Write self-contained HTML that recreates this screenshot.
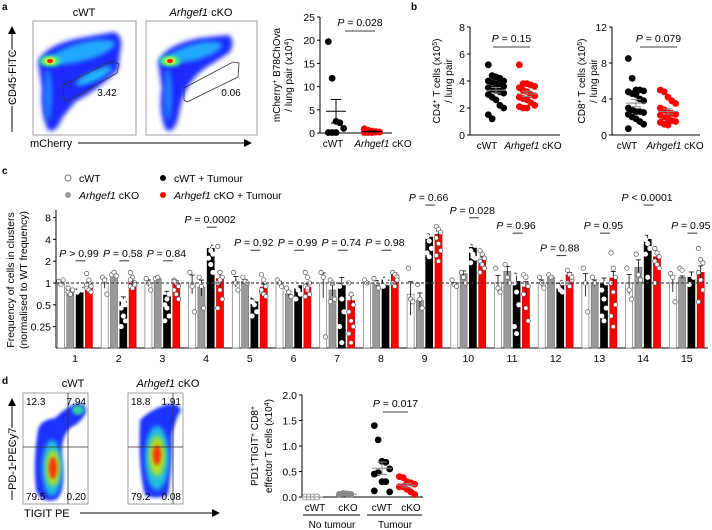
<!DOCTYPE html>
<html><head><meta charset="utf-8"><style>
body{margin:0;background:#fff}
svg{display:block;font-family:"Liberation Sans",Arial,sans-serif}
</style></head><body>
<svg id="fig" width="712" height="530" viewBox="0 0 712 530">
<defs>
<filter id="bl" x="-20%" y="-20%" width="140%" height="140%"><feGaussianBlur stdDeviation="2.5"/></filter>
<filter id="bl2" x="-20%" y="-20%" width="140%" height="140%"><feGaussianBlur stdDeviation="1.5"/></filter>
<marker id="arr" markerWidth="8" markerHeight="8" refX="6" refY="4" orient="auto"><path d="M0,0 L8,4 L0,8 Z" fill="#000"/></marker>
<clipPath id="c1"><rect x="33" y="21" width="103" height="114"/></clipPath>
<clipPath id="c2"><rect x="146" y="21" width="111" height="114"/></clipPath>
<clipPath id="c3"><rect x="23" y="393" width="65" height="111"/></clipPath>
<clipPath id="c4"><rect x="128" y="393" width="55" height="111"/></clipPath>
</defs>
<text x="2" y="10" font-size="10" font-weight="bold">a</text>
<text x="411" y="10" font-size="10" font-weight="bold">b</text>
<text x="2" y="174" font-size="10" font-weight="bold">c</text>
<text x="2" y="384" font-size="10" font-weight="bold">d</text>

<g>
<text x="84" y="16" font-size="11" text-anchor="middle">cWT</text>
<g clip-path="url(#c1)">
<path d="M38,62 Q45,45 80,38 L114,32 Q124,36 120,52 L118,70 Q100,88 75,102 L62,118 Q56,134 48,130 Q40,112 42,88 Z" fill="#1a2cff" filter="url(#bl)"/>
<ellipse cx="82" cy="52" rx="34" ry="9" transform="rotate(-15 82 52)" fill="#22a8ff" filter="url(#bl)"/>
<ellipse cx="94" cy="76" rx="20" ry="5" transform="rotate(-25 94 76)" fill="#22b8ff" filter="url(#bl)"/>
<ellipse cx="48" cy="95" rx="4" ry="26" fill="#1e80ff" filter="url(#bl)"/>
<ellipse cx="50" cy="61" rx="11" ry="6" fill="#30e0a0" filter="url(#bl2)"/>
<ellipse cx="50" cy="61" rx="6" ry="3.5" fill="#f0f020" filter="url(#bl2)"/>
<ellipse cx="50" cy="61" rx="3" ry="2" fill="#ff2000"/>
</g>
<rect x="33" y="21" width="103" height="114" fill="none" stroke="#888" stroke-width="0.8"/>
<polygon points="63,85 112,61 119,64 117,73 68,101 64,100" fill="none" stroke="#333" stroke-width="0.8"/>
<text x="107" y="96" font-size="10" text-anchor="middle">3.42</text>
</g>
<g>
<text x="201" y="16" font-size="11" text-anchor="middle"><tspan font-style="italic">Arhgef1</tspan> cKO</text>
<g clip-path="url(#c2)">
<path d="M158,62 Q165,45 200,38 L228,35 Q236,40 230,52 L215,62 Q190,75 182,100 L178,118 Q174,134 166,130 Q158,112 162,88 Z" fill="#1a2cff" filter="url(#bl)"/>
<ellipse cx="195" cy="52" rx="28" ry="8" transform="rotate(-15 195 52)" fill="#22a8ff" filter="url(#bl)"/>
<ellipse cx="168" cy="95" rx="4" ry="26" fill="#1e80ff" filter="url(#bl)"/>
<ellipse cx="170" cy="61" rx="11" ry="6" fill="#30e0a0" filter="url(#bl2)"/>
<ellipse cx="170" cy="61" rx="6" ry="3.5" fill="#f0f020" filter="url(#bl2)"/>
<ellipse cx="170" cy="61" rx="3" ry="2" fill="#ff2000"/>
</g>
<rect x="146" y="21" width="111" height="114" fill="none" stroke="#888" stroke-width="0.8"/>
<polygon points="184,88 233,62 239,63 238,77 187,102 184,100" fill="none" stroke="#333" stroke-width="0.8"/>
<text x="231" y="96" font-size="10" text-anchor="middle">0.06</text>
</g>
<line x1="12" y1="132" x2="12" y2="28" stroke="#000" stroke-width="1" marker-end="url(#arr)"/>
<text transform="translate(16,105) rotate(-90)" font-size="11" fill="#000" stroke="#fff" stroke-width="3" paint-order="stroke">CD45 FITC</text>
<line x1="78" y1="143" x2="250" y2="143" stroke="#000" stroke-width="1" marker-end="url(#arr)"/>
<text x="30" y="147" font-size="11" fill="#000" stroke="#fff" stroke-width="3" paint-order="stroke">mCherry</text>

<g>
<text x="73" y="387" font-size="11" text-anchor="middle">cWT</text>
<g clip-path="url(#c3)">
<path d="M38,430 Q40,420 55,418 Q65,408 75,404 Q86,402 86,412 Q82,422 70,428 Q60,438 62,460 Q66,495 55,500 Q40,503 36,490 Q33,460 38,430 Z" fill="#1a30ff" filter="url(#bl2)"/>
<ellipse cx="52" cy="468" rx="10" ry="28" fill="#20c0e0" filter="url(#bl)"/>
<ellipse cx="78" cy="410" rx="6" ry="5" fill="#30d0a0" filter="url(#bl2)"/>
<ellipse cx="53" cy="468" rx="7" ry="18" fill="#b0e020" filter="url(#bl)"/>
<ellipse cx="53" cy="468" rx="4" ry="11" fill="#ff3010" filter="url(#bl2)"/>
</g>
<rect x="23" y="393" width="65" height="111" fill="none" stroke="#888" stroke-width="0.8"/>
<line x1="68" y1="393" x2="68" y2="504" stroke="#333" stroke-width="0.8"/>
<line x1="23" y1="447" x2="88" y2="447" stroke="#333" stroke-width="0.8"/>
<text x="26" y="405" font-size="10">12.3</text><text x="86" y="405" font-size="10" text-anchor="end">7.94</text>
<text x="26" y="500" font-size="10">79.5</text><text x="86" y="500" font-size="10" text-anchor="end">0.20</text>
</g>
<g>
<text x="168" y="387" font-size="11" text-anchor="middle"><tspan font-style="italic">Arhgef1</tspan> cKO</text>
<g clip-path="url(#c4)">
<path d="M140,420 Q150,410 165,405 Q178,402 181,410 Q175,420 172,435 Q172,470 168,495 Q155,500 145,495 Q138,470 140,420 Z" fill="#1a30ff" filter="url(#bl2)"/>
<ellipse cx="157" cy="458" rx="12" ry="32" fill="#20c0e0" filter="url(#bl)"/>
<ellipse cx="157" cy="456" rx="8" ry="20" fill="#b0e020" filter="url(#bl)"/>
<ellipse cx="157" cy="455" rx="4" ry="10" fill="#ff3010" filter="url(#bl2)"/>
</g>
<rect x="128" y="393" width="55" height="111" fill="none" stroke="#888" stroke-width="0.8"/>
<line x1="173" y1="393" x2="173" y2="504" stroke="#333" stroke-width="0.8"/>
<line x1="128" y1="447" x2="183" y2="447" stroke="#333" stroke-width="0.8"/>
<text x="131" y="405" font-size="10">18.8</text><text x="181" y="405" font-size="10" text-anchor="end">1.91</text>
<text x="131" y="500" font-size="10">79.2</text><text x="181" y="500" font-size="10" text-anchor="end">0.08</text>
</g>
<line x1="12" y1="500" x2="12" y2="400" stroke="#000" stroke-width="1" marker-end="url(#arr)"/>
<text transform="translate(16,490) rotate(-90)" font-size="11" fill="#000" stroke="#fff" stroke-width="3" paint-order="stroke">PD-1 PECy7</text>
<line x1="80" y1="513" x2="218" y2="513" stroke="#000" stroke-width="1" marker-end="url(#arr)"/>
<text x="24" y="517" font-size="11">TIGIT PE</text>
</svg>
<script>
const aCwt = [19.7, 11.8, 2.5, 2.2, 1.0, 0.1, 0.1, 0.1];
const aCko = [0.9, 0.6, 0.4, 0.3, 0.2, 0.1, 0.1, 0.1, 0.2];
const cd4Cwt = [5.2, 4.4, 4.3, 4.2, 4.0, 4.0, 3.9, 3.8, 3.7, 3.6, 3.5, 3.4, 3.3, 3.2, 3.1, 3.0, 2.8, 2.6, 2.2, 2.0, 1.5, 1.2];
const cd4Cko = [5.2, 3.8, 3.8, 3.7, 3.6, 3.5, 3.3, 3.2, 3.0, 2.9, 2.8, 2.7, 2.6, 2.4, 2.2, 2.1, 2.0, 2.0];
const cd8Cwt = [8.5, 6.3, 5.0, 5.0, 4.9, 4.8, 4.6, 4.5, 4.0, 3.8, 3.0, 2.8, 2.6, 2.6, 2.5, 2.3, 2.0, 1.8, 1.5, 1.2, 0.7];
const cd8Cko = [5.0, 4.8, 4.2, 3.8, 3.5, 3.0, 2.8, 2.5, 2.4, 2.3, 2.2, 2.0, 1.8, 1.6, 1.5, 1.4, 1.2, 1.1];
const dNoCwt = [0, 0, 0, 0];
const dNoCko = [0.05, 0.07, 0.06, 0.05];
const dTuCwt = [1.4, 1.12, 0.7, 0.68, 0.55, 0.45, 0.48, 0.3, 0.3, 0.1, 0.12];
const dTuCko = [0.4, 0.38, 0.3, 0.28, 0.25, 0.2, 0.2, 0.15, 0.1, 0.05];
const clusters = ['1','2','3','4','5','6','7','8','9','10','11','12','13','14','15'];
const meanW = [1.0,1.0,1.0,1.0,1.05,1.0,1.0,1.0,0.7,0.95,1.0,1.0,1.0,1.0,1.0];
const meanG = [0.78,1.3,1.15,0.88,1.05,0.7,0.8,1.0,0.58,1.35,1.45,1.2,1.0,1.65,1.2];
const meanB = [0.9,0.55,0.68,3.0,0.62,0.95,1.0,1.1,4.3,3.1,1.05,1.0,1.0,4.0,1.2];
const meanR = [0.9,1.0,1.0,1.15,0.88,0.88,0.57,1.3,4.7,2.1,0.88,1.3,1.17,2.3,1.4];
const dotsW = [[1.05,0.95,1.1],[1.2,1.1,0.7],[1.15,1.0,0.8],[1.4,0.9,0.4],[1.4,1.0,0.8],[1.1,1.0,0.9],[1.4,1.2,0.18],[1.1,1.0],[1.6,0.6,0.55],[1.1,0.95,0.9],[1.6,0.85,0.75],[1.2,1.0,0.85],[1.6,1.0,0.4],[1.6,0.8,0.6],[1.35,1.2,0.55]];
const dotsG = [[0.75,0.7,0.8,0.85],[1.3,1.4,1.25],[1.15,1.2],[1.2,0.9,0.45],[1.2,1.05,1.0],[0.85,0.75,0.65],[1.1,1.0,0.6,0.55],[1.15,1.0,0.85],[0.95,0.6,0.45],[1.4,1.2,1.0],[1.8,1.2,1.0],[1.3,1.2],[1.2,1.0],[2.5,1.3,1.1],[1.6,1.5]];
const dotsB = [[1.2,1.1,0.95,0.9,0.85,0.8,0.75,0.95],[1.1,0.55,0.5,0.45,0.35,0.3,0.25,0.5],[1.0,0.9,0.7,0.5,0.45,0.35,0.3,0.6],[4.5,4.2,3.8,3.3,2.8,2.5,2.2,1.8,1.4,3.5],[1.0,0.7,0.6,0.55,0.5,0.4,0.35,0.65],[1.5,1.2,1.0,0.9,0.8,0.7,0.6,1.0],[1.6,1.5,1.0,0.9,0.6,0.4,0.25,0.15],[1.6,1.1,1.0,0.9,1.05,1.2],[5.8,5.5,5.0,4.4,3.8,3.0,2.6,2.3],[4.0,3.7,3.3,2.8,2.5,2.2,1.9,2.3],[2.8,1.9,1.3,1.0,0.75,0.5,0.25,0.2],[1.4,1.2,1.0,0.9,0.8,0.75,1.1],[1.6,1.4,1.0,0.8,0.6,0.45,0.35,0.3],[6.0,5.5,4.8,4.0,3.5,3.0,2.5,1.2],[1.9,1.7,1.2,0.95]];
const dotsR = [[1.35,1.0,0.9,0.85,0.8,0.75,0.95,1.1],[1.4,1.2,1.0,0.9,0.85,0.95,1.1],[1.1,1.0,0.9,0.8,0.7,0.6,1.05],[3.2,1.4,1.2,1.0,0.8,0.6,0.45,1.1],[1.3,1.1,0.9,0.75,0.7,0.65,0.8],[1.4,1.2,1.0,0.9,0.8,0.7,0.65,0.85],[1.0,0.7,0.5,0.4,0.3,0.25,0.2,0.15],[1.4,1.3,1.2,1.0,0.9,1.1],[6.0,5.5,5.0,4.2,3.5,2.8,2.4,2.0],[2.8,2.5,2.2,2.0,1.8,1.6,1.4],[1.3,1.2,0.9,0.7,0.45,0.3],[1.5,1.3,1.1,1.0,0.9,1.2],[2.6,1.6,1.2,1.0,0.75,0.5,0.35,0.25],[3.0,2.6,2.3,2.0,1.8,1.6,1.0],[3.0,2.1,1.9,1.4,1.1,0.8,0.55]];
const pLabels = ['P > 0.99','P = 0.58','P = 0.84','P = 0.0002','P = 0.92','P = 0.99','P = 0.74','P = 0.98','P = 0.66','P = 0.028','P = 0.96','P = 0.88','P = 0.95','P < 0.0001','P = 0.95'];
const pHeights = [1.78,1.78,1.78,5.2,2.5,2.5,2.5,2.5,10.5,7,4.3,2.1,4.3,10.5,4.3];
const cTicks = [0.25,0.5,1,2,4,8];
const cTickLabels = ['0.25','0.5','1','2','4','8'];

const NS='http://www.w3.org/2000/svg';
const svg=document.getElementById('fig');
function mk(tag,attrs,parent){const e=document.createElementNS(NS,tag);for(const k in attrs)e.setAttribute(k,attrs[k]);(parent||svg).appendChild(e);return e;}
function txt(x,y,s,size,anchor,parent){const t=mk('text',{x:x,y:y,'font-size':size,'text-anchor':anchor||'start'},parent);t.innerHTML=s;return t;}
function mean(a){return a.reduce((p,c)=>p+c,0)/a.length;}
function sem(a){const m=mean(a);return Math.sqrt(a.reduce((p,c)=>p+(c-m)*(c-m),0)/(a.length-1))/Math.sqrt(a.length);}
function jit(i){return ((i%5)-2)*3.2;}

function scatter(name,ax,top,bot,xEnd,ymax,ticks,tickLabels,groups,ylab1,ylab2,yo1,yo2,p,pxl,pxr,xlabels){
  const g=mk('g',{});
  
  
  const ys=v=>bot-(v/ymax)*(bot-top);
  mk('line',{x1:ax,y1:top,x2:ax,y2:bot,stroke:'#000','stroke-width':1},g);
  mk('line',{x1:ax,y1:bot,x2:xEnd,y2:bot,stroke:'#000','stroke-width':1},g);
  ticks.forEach((t,i)=>{const y=ys(t);mk('line',{x1:ax-3,y1:y,x2:ax,y2:y,stroke:'#000'},g);txt(ax-5,y+4,tickLabels[i],10.5,'end',g);});
  groups.forEach(gr=>{
    gr.vals.forEach((v,i)=>{const c=mk('circle',{cx:gr.x+jit(i)*1.2,cy:ys(v),r:3,fill:gr.fill,stroke:gr.stroke||gr.fill,'stroke-width':0.8},g);
      
      });
    const m=mean(gr.vals),s=sem(gr.vals);
    mk('line',{x1:gr.x-10,y1:ys(m),x2:gr.x+10,y2:ys(m),stroke:gr.bar,'stroke-width':1},g);
    mk('line',{x1:gr.x,y1:ys(m+s),x2:gr.x,y2:ys(Math.max(0,m-s)),stroke:gr.bar,'stroke-width':1},g);
    mk('line',{x1:gr.x-5,y1:ys(m+s),x2:gr.x+5,y2:ys(m+s),stroke:gr.bar},g);
    mk('line',{x1:gr.x-5,y1:ys(Math.max(0,m-s)),x2:gr.x+5,y2:ys(Math.max(0,m-s)),stroke:gr.bar},g);
  });
  if(p){txt((pxl+pxr)/2,p.y,'<tspan font-style="italic">P</tspan> = '+p.t,10.5,'middle',g);mk('line',{x1:pxl,y1:p.y+5,x2:pxr,y2:p.y+5,stroke:'#000','stroke-width':0.8},g);}
  xlabels.forEach(l=>txt(l.x,bot+14,l.s,10,'middle',g));
  const t1=txt(0,0,ylab1,10,'middle',g);t1.setAttribute('transform',`translate(${ax-yo1},${(top+bot)/2}) rotate(-90)`);
  if(ylab2){const t2=txt(0,0,ylab2,10,'middle',g);t2.setAttribute('transform',`translate(${ax-yo2},${(top+bot)/2}) rotate(-90)`);}
  return g;
}
scatter('mcherry-scatter',320,17,133,392,25,[0,5,10,15,20,25],['0','5','10','15','20','25'],
 [{x:336,vals:aCwt,fill:'#000',bar:'#000'},{x:372,vals:aCko,fill:'#f00',bar:'#000'}],
 'mCherry<tspan baseline-shift="super" font-size="7">+</tspan> B78ChOva','/ lung pair (x10<tspan baseline-shift="super" font-size="7">4</tspan>)',40,28,
 {y:26,t:'0.028'},345,375,[{x:333,s:'cWT'},{x:383,s:'<tspan font-style="italic">Arhgef1</tspan> cKO'}]);
scatter('cd4-scatter',470,27,135,560,8,[0,2,4,6,8],['0','2','4','6','8'],
 [{x:496,vals:cd4Cwt,fill:'#000',bar:'#888'},{x:527,vals:cd4Cko,fill:'#f00',bar:'#888'}],
 'CD4<tspan baseline-shift="super" font-size="7">+</tspan> T cells (x10<tspan baseline-shift="super" font-size="7">5</tspan>)','/ lung pair',30,18,
 {y:42,t:'0.15'},493,530,[{x:487,s:'cWT'},{x:533,s:'<tspan font-style="italic">Arhgef1</tspan> cKO'}]);
scatter('cd8-scatter',612,27,135,700,12,[0,4,8,12],['0','4','8','12'],
 [{x:636,vals:cd8Cwt,fill:'#000',bar:'#888'},{x:668,vals:cd8Cko,fill:'#f00',bar:'#888'}],
 'CD8<tspan baseline-shift="super" font-size="7">+</tspan> T cells (x10<tspan baseline-shift="super" font-size="7">5</tspan>)','/ lung pair',27,15,
 {y:42,t:'0.079'},640,677,[{x:627,s:'cWT'},{x:675,s:'<tspan font-style="italic">Arhgef1</tspan> cKO'}]);
(function(){
  const g=scatter('pd1-tigit-scatter',302,395,497,423,2.0,[0,0.5,1.0,1.5,2.0],['0.0','0.5','1.0','1.5','2.0'],
   [{x:313,vals:dNoCwt,fill:'#fff',stroke:'#888',bar:'#888'},{x:347,vals:dNoCko,fill:'#888',bar:'#888'},
    {x:382,vals:dTuCwt,fill:'#000',bar:'#888'},{x:407,vals:dTuCko,fill:'#f00',bar:'#888'}],
   'PD1<tspan baseline-shift="super" font-size="7">+</tspan>TIGIT<tspan baseline-shift="super" font-size="7">+</tspan> CD8<tspan baseline-shift="super" font-size="7">+</tspan>','effector T cells (x10<tspan baseline-shift="super" font-size="7">4</tspan>)',44,30,
   {y:407,t:'0.017'},383,408,[{x:315,s:'cWT'},{x:348,s:'cKO'},{x:382,s:'cWT'},{x:411,s:'cKO'}]);
  mk('line',{x1:303,y1:515,x2:360,y2:515,stroke:'#000'},g);
  mk('line',{x1:367,y1:515,x2:422,y2:515,stroke:'#000'},g);
  txt(332,528,'No tumour',10,'middle',g);txt(395,528,'Tumour',10,'middle',g);
})();

(function(){
  const g=mk('g',{});
  
  
  const ax=56,bot=348,top=210,x0=75,step=43.7;
  const ys=v=>Math.min(bot,283-Math.log2(v)*21.8);
  mk('line',{x1:ax,y1:top,x2:ax,y2:bot,stroke:'#000'},g);
  mk('line',{x1:ax,y1:bot,x2:708,y2:bot,stroke:'#000'},g);
  cTicks.forEach((t,i)=>{const y=ys(t);mk('line',{x1:ax-3,y1:y,x2:ax,y2:y,stroke:'#000'},g);txt(ax-5,y+4,cTickLabels[i],10.5,'end',g);});
  const series=[{m:meanW,d:dotsW,fill:'#fff',stroke:'#777',dot:'#fff',ds:'#555',name:'bar-cwt'},
    {m:meanG,d:dotsG,fill:'#999',stroke:'#777',dot:'#fff',ds:'#555',name:'bar-cko'},
    {m:meanB,d:dotsB,fill:'#000',stroke:'#000',dot:'#fff',ds:'#fff',name:'bar-cwt-tumour'},
    {m:meanR,d:dotsR,fill:'#f00',stroke:'#c00',dot:'#fff',ds:'#555',name:'bar-cko-tumour'}];
  clusters.forEach((c,ci)=>{
    const cx=x0+ci*step;
    series.forEach((s,si)=>{
      const bx=cx-14+si*9.3, v=s.m[ci], y=ys(v);
      const r=mk('rect',{x:bx-3.5,y:y,width:7,height:bot-y,fill:s.fill,stroke:s.stroke,'stroke-width':0.7},g);
      
      
      const se=sem(s.d[ci]);
      mk('line',{x1:bx,y1:ys(v+se),x2:bx,y2:ys(Math.max(0.13,v-se)),stroke:'#000','stroke-width':0.8},g);
      mk('line',{x1:bx-2.5,y1:ys(v+se),x2:bx+2.5,y2:ys(v+se),stroke:'#000','stroke-width':0.8},g);
      s.d[ci].forEach((dv,di)=>{const p=mk('circle',{cx:bx+((di%3)-1)*2.2,cy:ys(dv),r:2.2,fill:s.dot,stroke:s.ds,'stroke-width':0.7},g);
        
        });
    });
    txt(cx,362,c,10.5,'middle',g);
    const py=ys(pHeights[ci]);
    let lab=pLabels[ci].replace('<','&lt;').replace('>','&gt;');
    lab='<tspan font-style="italic">P</tspan>'+lab.slice(1);
    const pt=txt(cx+4,py-8,lab,10.5,'middle',g);
    
    
    mk('line',{x1:cx+0.7,y1:py-4,x2:cx+10.5,y2:py-4,stroke:'#000','stroke-width':0.8},g);
  });
  mk('line',{x1:ax,y1:283,x2:708,y2:283,stroke:'#444','stroke-width':1.2,'stroke-dasharray':'3,2'},g);
  const l1=txt(0,0,'Frequency of cells in clusters',10.5,'middle',g);l1.setAttribute('transform','translate(14,280) rotate(-90)');
  const l2=txt(0,0,'(normalised to WT frequency)',10.5,'middle',g);l2.setAttribute('transform','translate(27,280) rotate(-90)');
  const lg=mk('g',{});
  
  
  mk('circle',{cx:68,cy:178,r:3,fill:'#fff',stroke:'#777'},lg);txt(79,182,'cWT',10.5,'start',lg);
  mk('circle',{cx:68,cy:195,r:3,fill:'#999'},lg);txt(79,199,'<tspan font-style="italic">Arhgef1</tspan> cKO',10.5,'start',lg);
  mk('circle',{cx:163,cy:178,r:3,fill:'#000'},lg);txt(174,182,'cWT + Tumour',10.5,'start',lg);
  mk('circle',{cx:163,cy:195,r:3,fill:'#f00'},lg);txt(174,199,'<tspan font-style="italic">Arhgef1</tspan> cKO + Tumour',10.5,'start',lg);
})();
</script>
</body></html>
